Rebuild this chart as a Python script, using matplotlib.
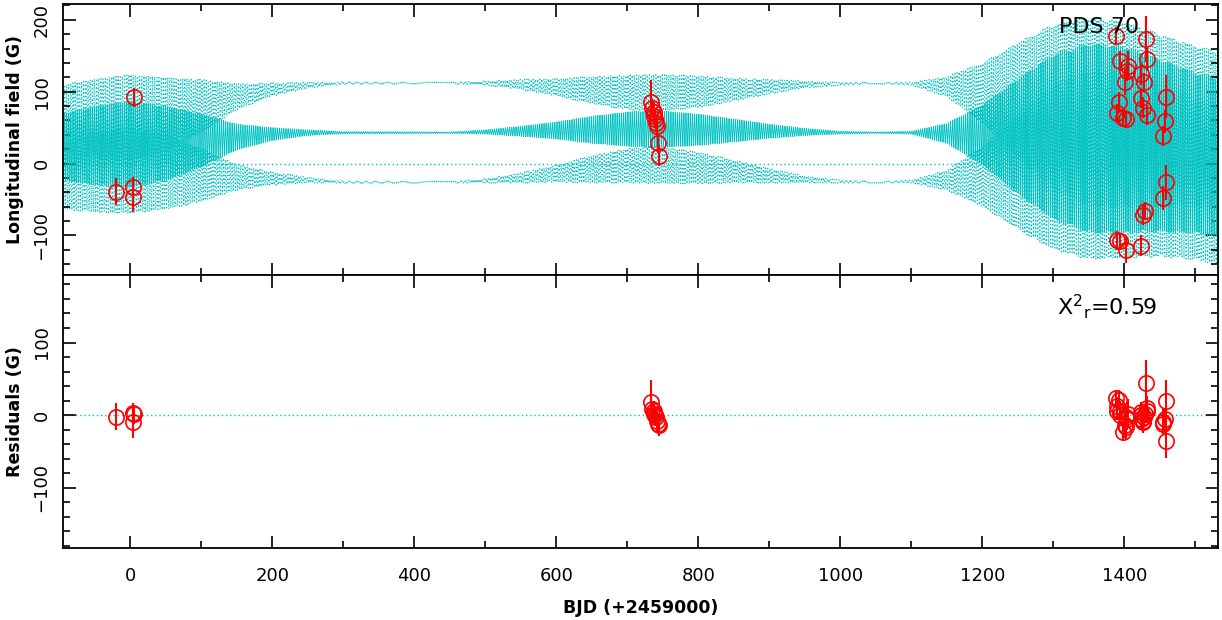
import numpy as np
import matplotlib
matplotlib.use('Agg')
import matplotlib.pyplot as plt
from matplotlib.ticker import MultipleLocator

# observations (BJD - 2459000), longitudinal field, error, residual
t_obs = [-20, 3, 4, 5,
         733, 735, 737, 738, 739, 740, 741, 743, 744,
         1388, 1430, 1432, 1394, 1405, 1404, 1401, 1424, 1428, 1458,
         1392, 1424, 1426, 1389, 1398, 1402, 1432, 1457, 1455, 1458,
         1455, 1429, 1426, 1390, 1394, 1402, 1423]
bl_obs = [-39, -46, -33, 92,
          86, 78, 72, 66, 62, 56, 52, 28, 11,
          178, 173, 145, 143, 136, 129, 114, 124, 113, 93,
          86, 91, 78, 70, 64, 62, 67, 59, 38, -26,
          -48, -66, -72, -107, -108, -120, -114]
err_obs = [19, 22, 14, 13,
           30, 12, 14, 12, 13, 12, 14, 13, 15,
           12, 32, 16, 14, 20, 14, 18, 14, 13, 30,
           14, 13, 15, 13, 12, 13, 14, 16, 14, 24,
           17, 13, 14, 13, 12, 18, 15]
res_obs = [-2, -9, 3, 1,
           18, 8, 5, 2, 0, -3, -8, -12, -14,
           23, 44, 10, 5, 2, -6, -14, 4, -3, 19,
           21, 0, -8, 12, -23, -2, 6, -6, -12, -35,
           -9, 2, -10, 6, 0, -16, -6]

# GP model envelope: time, mean, modulation amplitude, sigma
knot_t = [-95, -50, 0, 50, 100, 150, 200, 250, 300, 450, 500, 550, 600, 650, 700, 740,
          800, 850, 900, 950, 1000, 1050, 1100, 1150, 1200, 1250, 1300, 1350, 1400,
          1450, 1500, 1532]
knot_mean = [23, 25, 27, 28, 32, 37, 41, 43, 43, 43, 44, 45, 46, 47, 48, 48,
             47, 46, 45, 44, 43, 43, 43, 42, 40, 38, 37, 35, 33, 25, 15, 8]
knot_amp = [47, 55, 60, 52, 37, 18, 9, 4, 1.5, 1, 3, 7, 12, 19, 24, 26,
            22, 16, 10, 5, 2, 1, 2, 14, 42, 80, 115, 132, 130, 120, 112, 112]
knot_sig = [40, 38, 37, 40, 48, 56, 62, 66, 69, 69, 68, 65, 60, 55, 51, 50,
            53, 57, 62, 66, 68, 69, 68, 65, 58, 50, 42, 37, 35, 35, 37, 37]
p_rot = 3.03

cyan = '#00c2c2'
red = '#ff0000'

t_mod = np.arange(-95, 1532, 0.25)
mean = np.interp(t_mod, knot_t, knot_mean)
amp = np.interp(t_mod, knot_t, knot_amp)
sig = np.interp(t_mod, knot_t, knot_sig)
model = mean + amp * np.sin(2 * np.pi * t_mod / p_rot)

fig = plt.figure(figsize=(12.22, 6.2), dpi=100)
ax1 = fig.add_axes([0.0516, 0.5565, 0.9452, 0.437])
ax2 = fig.add_axes([0.0516, 0.1161, 0.9452, 0.4404], sharex=ax1)

dot = (0, (1, 2))
ax1.axhline(0, color=cyan, lw=1, ls=dot, zorder=1)
ax1.plot(t_mod, model + sig, color=cyan, lw=0.9, ls=dot, zorder=1)
ax1.plot(t_mod, model - sig, color=cyan, lw=0.9, ls=dot, zorder=1)
ax1.plot(t_mod, model, color=cyan, lw=0.6, zorder=2)
ax1.errorbar(t_obs, bl_obs, yerr=err_obs, fmt='o', ms=11, mfc='none', mec=red,
             mew=1.2, ecolor=red, elinewidth=1.5, capsize=0, zorder=3)
ax1.text(1308, 176, 'PDS 70', fontsize=16, ha='left', va='bottom', zorder=4)
ax1.set_ylim(-155, 222)
ax1.set_ylabel('Longitudinal field (G)', fontsize=12.5, fontweight='bold')

ax2.axhline(0, color=cyan, lw=1, ls=dot, zorder=1)
ax2.errorbar(t_obs, res_obs, yerr=err_obs, fmt='o', ms=11, mfc='none', mec=red,
             mew=1.2, ecolor=red, elinewidth=1.5, capsize=0, zorder=3)
ax2.text(1305, 150, r'X$^{2}$$_{\mathrm{r}}$=0.59', fontsize=16, ha='left', va='center')
ax2.set_ylim(-183, 193)
ax2.set_ylabel('Residuals (G)', fontsize=12.5, fontweight='bold')
ax2.set_xlabel('BJD (+2459000)', fontsize=12.5, fontweight='bold', labelpad=10)
ax2.set_xlim(-95, 1532)

for ax in (ax1, ax2):
    ax.xaxis.set_major_locator(MultipleLocator(200))
    ax.xaxis.set_minor_locator(MultipleLocator(100))
    ax.yaxis.set_major_locator(MultipleLocator(100))
    ax.yaxis.set_minor_locator(MultipleLocator(20))
    ax.tick_params(which='both', direction='in', top=True, right=True, width=1.2)
    ax.tick_params(which='major', length=9, labelsize=13)
    ax.tick_params(which='minor', length=5)
    ax.tick_params(axis='y', labelrotation=90, pad=9)
    ax.tick_params(axis='x', pad=14)
    for lab in ax.get_yticklabels():
        lab.set_va('center')
    for sp in ax.spines.values():
        sp.set_linewidth(1.3)
    ax.yaxis.set_label_coords(-0.034, 0.5)

ax1.tick_params(axis='x', labelbottom=False)

fig.savefig('out.png', dpi=100)
